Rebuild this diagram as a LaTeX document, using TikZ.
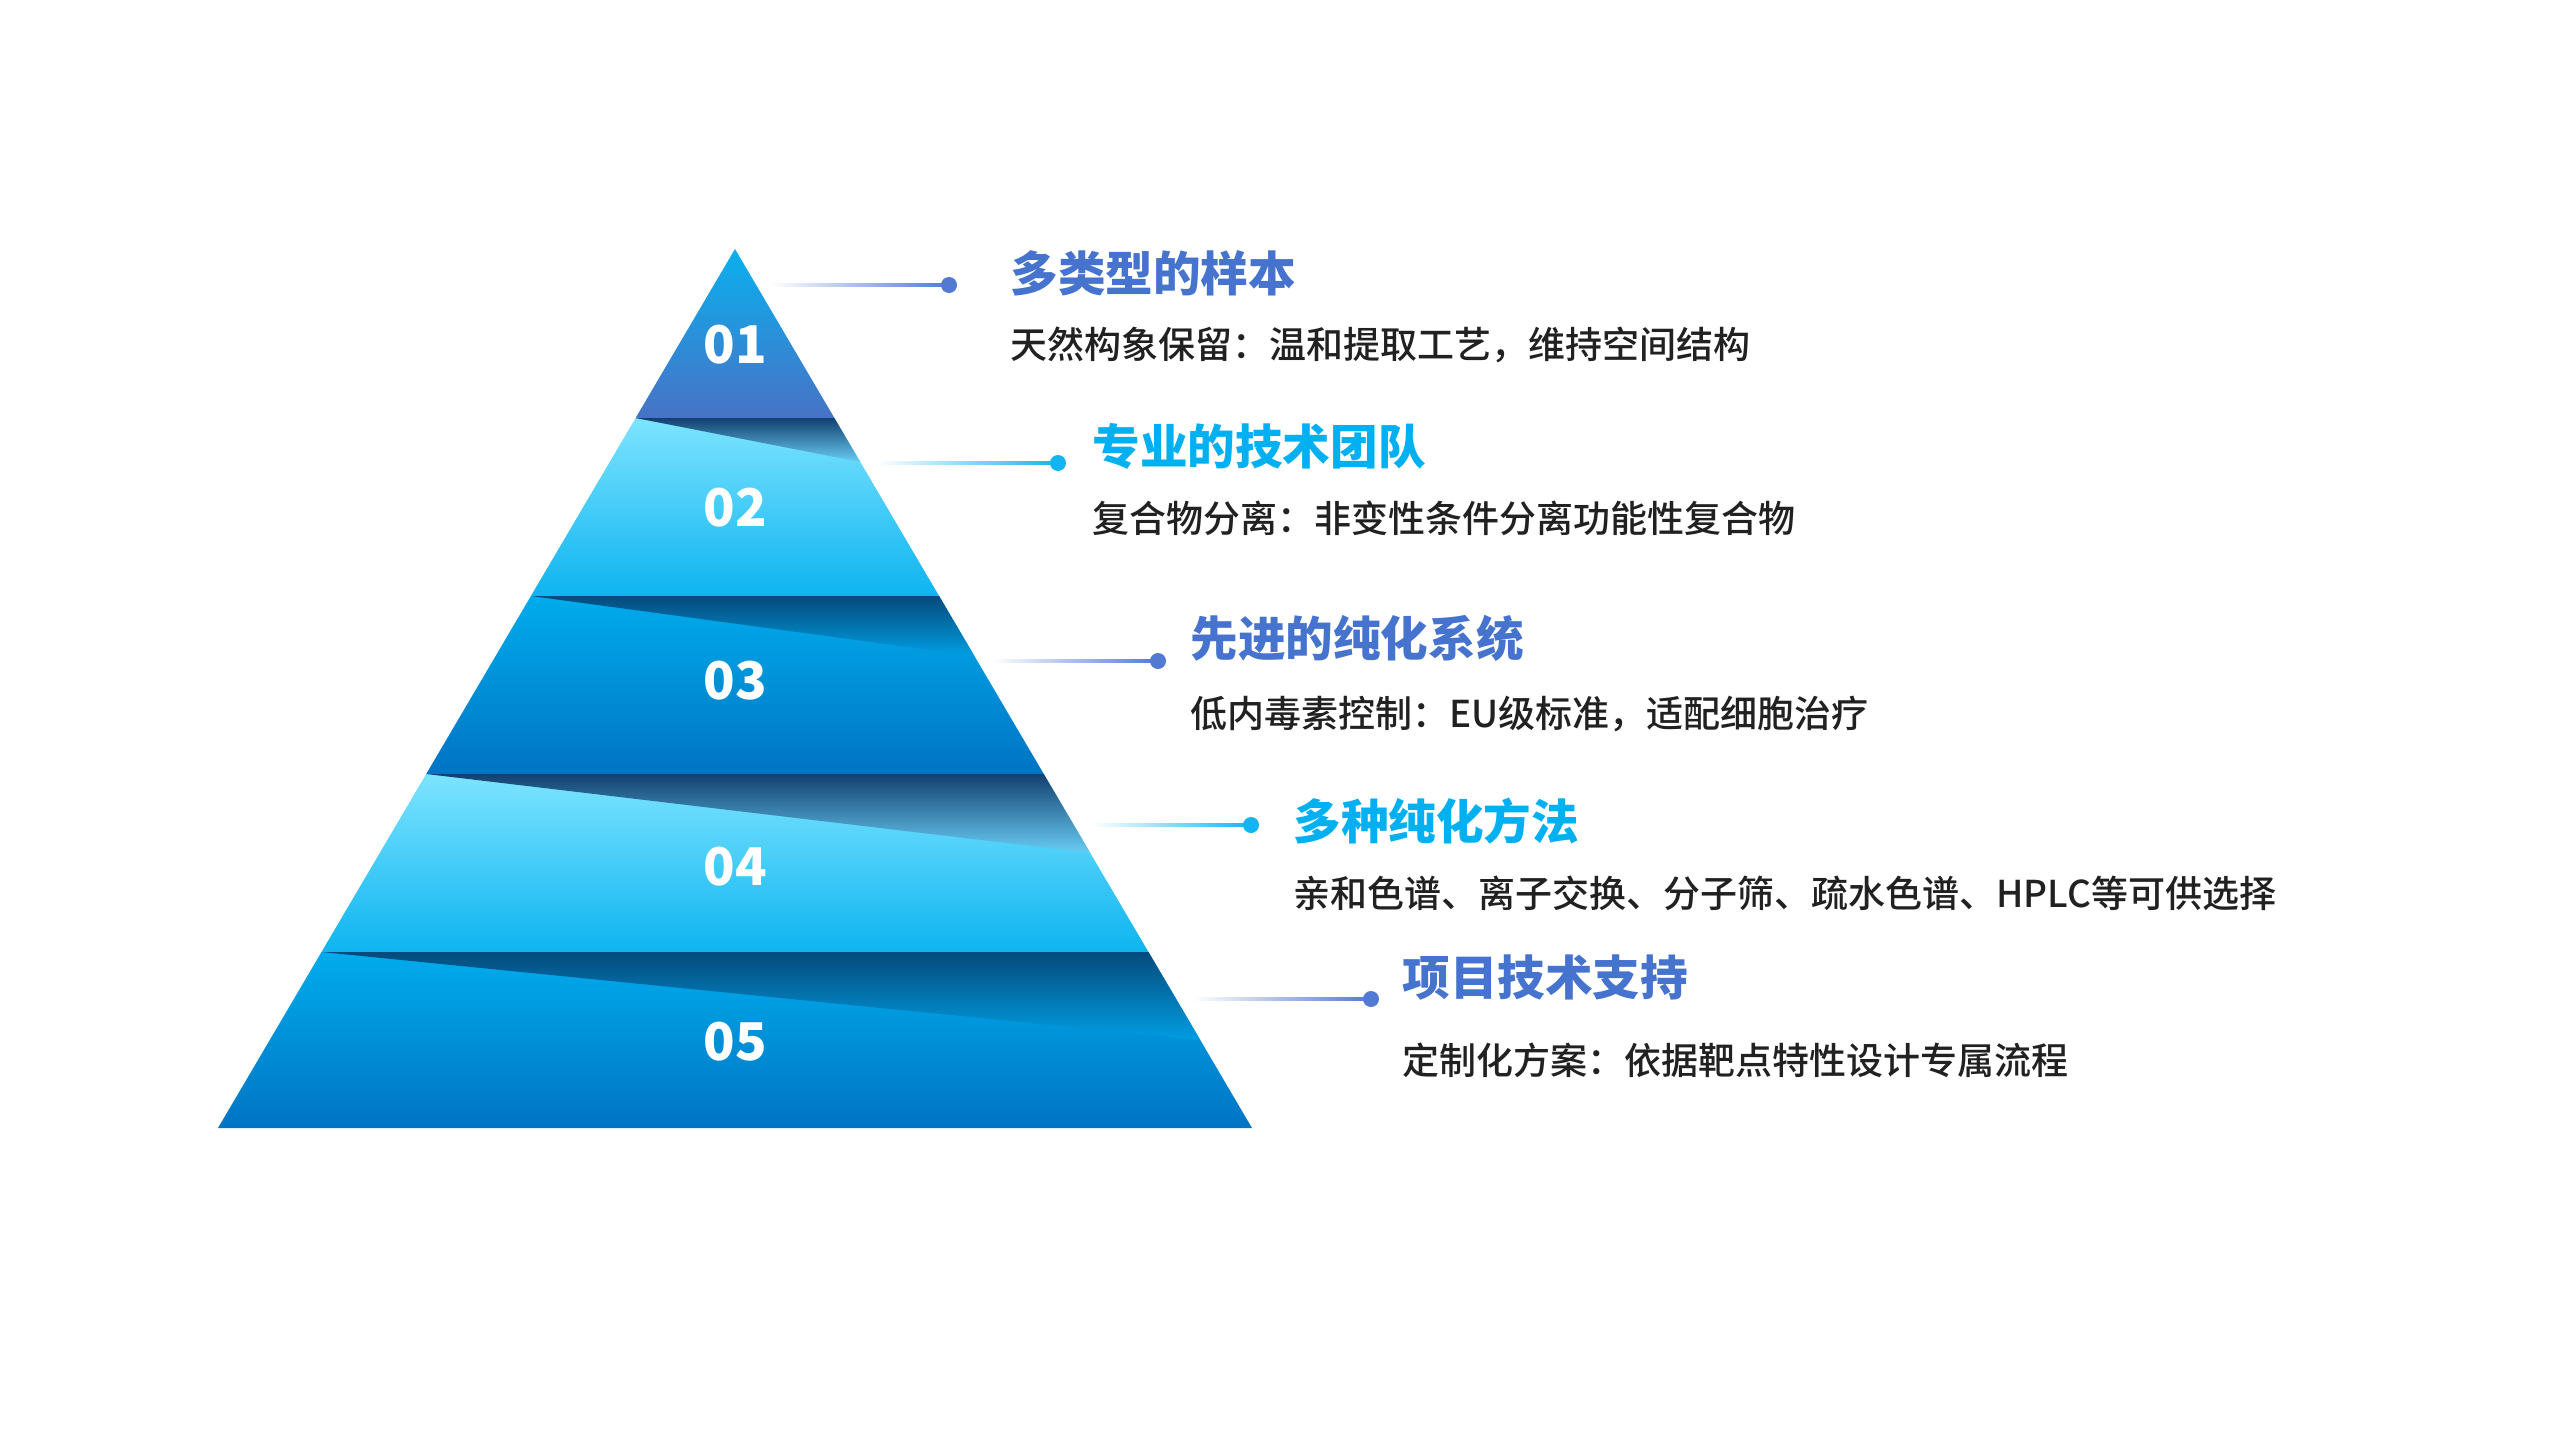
\documentclass[tikz,border=0pt]{standalone}
\usepackage{fontspec}
\newfontfamily\cjk{Noto Sans CJK SC}
\newfontfamily\cjkm{Noto Sans CJK SC}[UprightFont=* Medium]
\usetikzlibrary{calc}
\definecolor{tb}{RGB}{70,115,205}
\definecolor{tc}{RGB}{0,176,240}
\definecolor{td}{RGB}{33,33,33}
\definecolor{dotb}{RGB}{82,122,210}
\definecolor{dotc}{RGB}{20,180,240}
\definecolor{oneA}{RGB}{10,176,238}
\definecolor{oneB}{RGB}{72,114,198}
\definecolor{ltA}{RGB}{125,228,255}
\definecolor{ltB}{RGB}{14,180,240}
\definecolor{dkA}{RGB}{0,172,236}
\definecolor{dkB}{RGB}{0,116,196}
\definecolor{wA}{RGB}{18,64,110}
\definecolor{wB}{RGB}{105,205,245}
\definecolor{wC}{RGB}{5,74,124}
\definecolor{wD}{RGB}{0,158,226}
\tikzset{
  title/.style={anchor=west, inner sep=0pt, font=\cjk\bfseries\fontsize{23.8}{28}\selectfont},
  desc/.style={anchor=west, inner sep=0pt, text=td, font=\cjkm\fontsize{18.5}{22}\selectfont},
  num/.style={inner sep=0pt, text=white, font=\cjk\bfseries\fontsize{26}{30}\selectfont},
  dotnode/.style={circle, inner sep=0pt, minimum size=8pt},
}
\begin{document}
\begin{tikzpicture}[x=0.5pt,y=-0.5pt]
\useasboundingbox (0,0) rectangle (2560,1440);
\fill[white] (0,0) rectangle (2560,1440);
% tiers
\shade[top color=oneA, bottom color=oneB] (735,249) -- (834.4,418) -- (635.6,418) -- cycle;
\shade[top color=ltA, bottom color=ltB] (635.6,418) -- (834.4,418) -- (939.1,596) -- (530.9,596) -- cycle;
\shade[top color=wA, bottom color=wB] (635.6,418) -- (834.4,418) -- (860.3,462) -- cycle;
\shade[top color=dkA, bottom color=dkB] (530.9,596) -- (939.1,596) -- (1043.8,774) -- (426.2,774) -- cycle;
\shade[top color=wC, bottom color=wD] (530.9,596) -- (939.1,596) -- (974.4,656) -- cycle;
\shade[top color=ltA, bottom color=ltB] (426.2,774) -- (1043.8,774) -- (1148.5,952) -- (321.5,952) -- cycle;
\shade[top color=wA, bottom color=wB] (426.2,774) -- (1043.8,774) -- (1090.3,853) -- cycle;
\shade[top color=dkA, bottom color=dkB] (321.5,952) -- (1148.5,952) -- (1252,1128) -- (218,1128) -- cycle;
\shade[top color=wC, bottom color=wD] (321.5,952) -- (1148.5,952) -- (1200.3,1040) -- cycle;
% numbers
\node[num] (n1) at (735,345) {01};
\node[num] (n2) at (735,508) {02};
\node[num] (n3) at (735,681) {03};
\node[num] (n4) at (735,867) {04};
\node[num] (n5) at (735,1042) {05};
% connectors
\coordinate (s1) at (770,285);  \coordinate (e1) at (949,285);
\coordinate (s2) at (877,463);  \coordinate (e2) at (1058,463);
\coordinate (s3) at (992,661);  \coordinate (e3) at (1158,661);
\coordinate (s4) at (1092,825); \coordinate (e4) at (1251,825);
\coordinate (s5) at (1192,999); \coordinate (e5) at (1371,999);
\shade[left color=white, right color=dotb] ($(s1)+(0,-1.8)$) rectangle ($(e1)+(0,1.8)$);
\shade[left color=white, right color=dotc] ($(s2)+(0,-1.8)$) rectangle ($(e2)+(0,1.8)$);
\shade[left color=white, right color=dotb] ($(s3)+(0,-1.8)$) rectangle ($(e3)+(0,1.8)$);
\shade[left color=white, right color=dotc] ($(s4)+(0,-1.8)$) rectangle ($(e4)+(0,1.8)$);
\shade[left color=white, right color=dotb] ($(s5)+(0,-1.8)$) rectangle ($(e5)+(0,1.8)$);
\node[dotnode, fill=dotb] (d1) at (e1) {};
\node[dotnode, fill=dotc] (d2) at (e2) {};
\node[dotnode, fill=dotb] (d3) at (e3) {};
\node[dotnode, fill=dotc] (d4) at (e4) {};
\node[dotnode, fill=dotb] (d5) at (e5) {};
% texts
\node[title, text=tb] (t1) at (1010,273) {多类型的样本};
\node[desc] (x1) at (1010,345) {天然构象保留：温和提取工艺，维持空间结构};
\node[title, text=tc] (t2) at (1092,446) {专业的技术团队};
\node[desc] (x2) at (1092,518) {复合物分离：非变性条件分离功能性复合物};
\node[title, text=tb] (t3) at (1190,638) {先进的纯化系统};
\node[desc] (x3) at (1190,714) {低内毒素控制：EU级标准，适配细胞治疗};
\node[title, text=tc] (t4) at (1293,821) {多种纯化方法};
\node[desc] (x4) at (1293,893) {亲和色谱、离子交换、分子筛、疏水色谱、HPLC等可供选择};
\node[title, text=tb] (t5) at (1402,978) {项目技术支持};
\node[desc] (x5) at (1402,1060) {定制化方案：依据靶点特性设计专属流程};
\end{tikzpicture}
\end{document}
